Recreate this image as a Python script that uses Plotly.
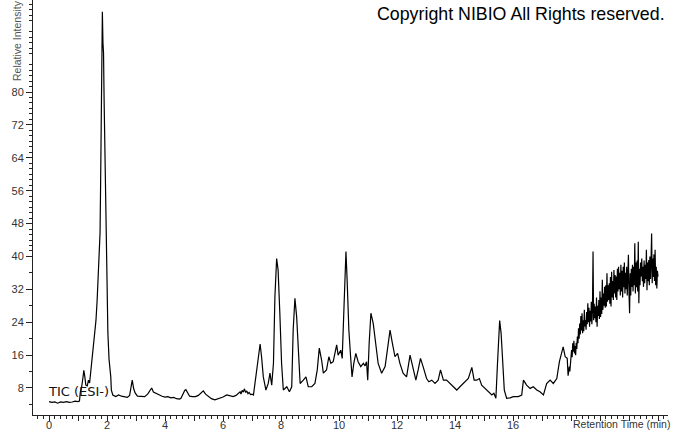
import plotly.graph_objects as go

# ---- data (retention time in min, relative intensity) ----
time_main = [
    0.00, 0.10, 0.20, 0.30, 0.40, 0.50, 0.60, 0.70, 0.80, 0.90, 1.00, 1.05,
    1.08, 1.12, 1.17, 1.20, 1.23, 1.27, 1.32, 1.36, 1.40, 1.44, 1.48, 1.52, 1.57, 1.62, 1.66,
    1.70, 1.73, 1.76, 1.78, 1.80, 1.82, 1.84, 1.86, 1.88, 1.90, 1.93, 1.97, 2.00, 2.03, 2.07,
    2.10, 2.13, 2.15, 2.20, 2.30, 2.40, 2.50, 2.60, 2.70, 2.78, 2.83, 2.87, 2.92, 2.97, 3.05,
    3.20, 3.30, 3.40, 3.50, 3.54, 3.60, 3.70, 3.80, 3.90, 4.00, 4.10, 4.20, 4.30, 4.40, 4.50,
    4.55, 4.62, 4.68, 4.72, 4.78, 4.85, 4.95, 5.05, 5.15, 5.25, 5.32, 5.40, 5.50, 5.60, 5.72,
    5.85, 6.00, 6.13, 6.25, 6.35, 6.45, 6.55, 6.59, 6.62, 6.66, 6.70, 6.74, 6.78, 6.82, 6.86,
    6.90, 6.95, 7.00, 7.05, 7.10, 7.15, 7.20, 7.28, 7.33, 7.39, 7.48, 7.56, 7.62, 7.68, 7.74,
    7.79, 7.85, 7.90, 7.96, 8.02, 8.08, 8.20, 8.29, 8.37, 8.42, 8.48, 8.54, 8.60, 8.66, 8.77,
    8.86, 8.94, 9.06, 9.17, 9.25, 9.32, 9.40, 9.46, 9.57, 9.65, 9.72, 9.80, 9.86, 9.92, 9.97,
    10.06, 10.11, 10.17, 10.24, 10.28, 10.34, 10.40, 10.45, 10.51, 10.58, 10.66, 10.75, 10.84,
    10.90, 10.95, 10.99, 11.04, 11.10, 11.18, 11.26, 11.35, 11.47, 11.59, 11.70, 11.76, 11.84,
    11.93, 12.02, 12.10, 12.21, 12.33, 12.45, 12.54, 12.65, 12.73, 12.81, 12.90, 13.02, 13.10,
    13.20, 13.31, 13.42, 13.50, 13.60, 13.71, 13.83, 13.94, 14.06, 14.17, 14.34, 14.46, 14.58,
    14.66, 14.75, 14.84, 14.92, 15.03, 15.15, 15.27, 15.34, 15.41, 15.46, 15.51, 15.54, 15.59,
    15.64, 15.70, 15.78, 15.90, 16.01, 16.18, 16.30, 16.36, 16.47, 16.59, 16.70, 16.82, 16.93,
    17.05, 17.16, 17.28, 17.39, 17.51, 17.60, 17.68, 17.73, 17.80, 17.87,
]
intensity_main = [
    4.7, 4.5, 4.6, 4.3, 4.6, 4.5, 4.7, 4.5, 4.6, 4.8, 4.7, 4.8,
    7.0, 8.0, 10.5, 12.3, 11.0, 8.7, 8.5, 9.9, 9.2, 12.0, 14.5, 17.2, 21.0, 24.5, 29.4,
    37.0, 43.3, 45.7, 58.0, 70.0, 88.6, 99.5, 92.0, 89.5, 78.0, 61.8, 45.7, 29.4, 21.4, 15.0,
    13.2, 10.7, 7.5, 6.3, 5.9, 6.3, 6.0, 5.9, 5.7, 6.2, 8.7, 9.9, 7.8, 6.8, 6.0,
    5.9, 5.9, 6.5, 7.8, 8.0, 7.0, 6.6, 6.3, 6.0, 5.8, 5.9, 5.6, 5.7, 5.4, 5.3,
    5.5, 6.6, 7.4, 7.6, 7.0, 6.0, 5.9, 5.9, 6.2, 7.0, 7.3, 6.5, 5.9, 5.4, 5.1,
    5.4, 5.8, 6.3, 6.0, 5.9, 6.2, 6.8, 7.1, 6.5, 7.4, 7.0, 7.8, 6.9, 7.3, 6.6,
    6.9, 6.4, 6.5, 6.3, 9.0, 12.4, 15.6, 18.7, 15.6, 10.7, 7.5, 9.1, 11.6, 8.7, 14.0,
    30.2, 39.5, 36.7, 26.2, 14.0, 7.5, 8.3, 7.1, 8.3, 22.1, 29.8, 25.3, 15.6, 9.1, 9.9,
    10.7, 8.3, 8.3, 9.1, 12.4, 17.7, 14.8, 11.6, 12.4, 15.6, 14.0, 14.4, 16.5, 18.5, 16.0,
    17.2, 15.2, 26.2, 41.2, 34.3, 22.1, 15.6, 10.7, 14.0, 16.4, 14.4, 13.2, 14.0,
    13.4, 14.4, 9.9, 18.9, 26.2, 23.7, 18.9, 14.0, 11.6, 13.2, 18.9, 22.1, 18.9,
    15.6, 16.4, 14.0, 11.6, 10.7, 16.0, 13.2, 9.9, 12.4, 15.2, 13.2, 10.3, 9.5,
    9.9, 9.1, 9.9, 12.4, 9.9, 9.9, 9.1, 8.3, 7.5, 8.3, 9.5, 10.3, 13.0,
    9.9, 9.9, 10.3, 8.7, 7.9, 7.1, 6.3, 6.7, 5.5, 13.2, 20.5, 24.4, 21.3,
    14.0, 7.5, 5.5, 5.6, 5.9, 5.9, 6.3, 9.9, 8.7, 7.9, 8.3, 7.5, 7.1,
    6.3, 9.1, 9.9, 9.1, 10.3, 14.4, 16.8, 18.0, 15.6, 15.2,
]

# noisy rising tail at the end of the run
time_tail = [
    17.90, 17.92, 17.94, 17.96, 17.98, 18.00, 18.02, 18.04, 18.06, 18.08,
    18.10, 18.12, 18.14, 18.16, 18.18, 18.20, 18.22, 18.24, 18.26, 18.28,
    18.30, 18.32, 18.34, 18.36, 18.38, 18.40, 18.42, 18.44, 18.46, 18.48,
    18.50, 18.52, 18.54, 18.56, 18.58, 18.60, 18.62, 18.64, 18.66, 18.68,
    18.70, 18.72, 18.74, 18.76, 18.78, 18.80, 18.82, 18.84, 18.86, 18.88,
    18.90, 18.92, 18.94, 18.96, 18.98, 19.00, 19.02, 19.04, 19.06, 19.08,
    19.10, 19.12, 19.14, 19.16, 19.18, 19.20, 19.22, 19.24, 19.26, 19.28,
    19.30, 19.32, 19.34, 19.36, 19.38, 19.40, 19.42, 19.44, 19.46, 19.48,
    19.50, 19.52, 19.54, 19.56, 19.58, 19.60, 19.62, 19.64, 19.66, 19.68,
    19.70, 19.72, 19.74, 19.76, 19.78, 19.80, 19.82, 19.84, 19.86, 19.88,
    19.90, 19.92, 19.94, 19.96, 19.98, 20.00, 20.02, 20.04, 20.06, 20.08,
    20.10, 20.12, 20.14, 20.16, 20.18, 20.20, 20.22, 20.24, 20.26, 20.28,
    20.30, 20.32, 20.34, 20.36, 20.38, 20.40, 20.42, 20.44, 20.46, 20.48,
    20.50, 20.52, 20.54, 20.56, 20.58, 20.60, 20.62, 20.64, 20.66, 20.68,
    20.70, 20.72, 20.74, 20.76, 20.78, 20.80, 20.82, 20.84, 20.86, 20.88,
    20.90, 20.92, 20.94, 20.96, 20.98, 21.00,
]
intensity_tail = [
    11.0, 12.5, 13.2, 12.0, 15.0, 14.2, 17.2, 15.5, 18.9, 16.8,
    19.5, 16.4, 18.2, 16.0, 19.0, 17.5, 20.5, 18.9, 22.5, 20.0,
    23.7, 21.0, 25.5, 22.0, 26.2, 21.3, 24.5, 21.8, 27.0, 23.0,
    24.5, 22.2, 26.5, 23.5, 28.6, 24.0, 27.5, 22.9, 26.8, 24.2,
    29.0, 23.5, 27.2, 41.2, 24.5, 28.5, 25.0, 27.8, 24.0, 30.0,
    22.9, 28.0, 25.5, 29.4, 24.8, 31.5, 25.3, 30.0, 26.0, 34.3,
    27.0, 31.0, 28.0, 32.6, 27.5, 33.0, 27.8, 35.9, 29.0, 33.0,
    29.4, 33.5, 28.5, 35.0, 27.8, 36.3, 30.0, 34.0, 29.4, 36.7,
    31.0, 35.5, 30.0, 35.1, 29.4, 37.0, 31.5, 37.5, 32.0, 36.0,
    30.5, 38.0, 31.5, 36.5, 30.0, 37.5, 32.5, 38.5, 31.0, 36.0,
    32.0, 37.5, 30.5, 38.5, 40.4, 31.0, 26.2, 35.9, 30.5, 37.0,
    32.6, 38.0, 31.5, 37.5, 33.0, 43.2, 31.0, 38.5, 32.5, 39.0,
    31.5, 43.6, 28.6, 37.0, 33.0, 38.5, 35.1, 39.5, 34.0, 37.5,
    32.6, 39.0, 33.5, 38.0, 34.5, 41.6, 31.8, 38.5, 34.0, 39.1,
    33.0, 40.0, 34.5, 39.0, 45.6, 33.5, 39.5, 35.0, 40.5, 34.0,
    41.6, 33.0, 37.5, 32.2, 36.5, 35.1,
]

x_tick_values = list(range(0, 22))
x_tick_labels = [str(v) if (v % 2 == 0 and v <= 16) else "" for v in x_tick_values]
y_tick_values = [8, 16, 24, 32, 40, 48, 56, 64, 72, 80]
y_tick_labels = [str(v) for v in y_tick_values]

# ---- figure ----
W, H = 673, 433
ML, MR, MT, MB = 33, 5, 0, 18
PW, PH = W - ML - MR, H - MT - MB

def px(x):
    return (x - ML) / PW

def py(y):
    return (H - MB - y) / PH

y_minor = [v for v in range(4, 40, 8)]
k = 40.0
while k < 102:
    if abs(k / 8 - round(k / 8)) > 1e-6:
        y_minor.append(round(k, 3))
    k += 8 / 6

fig = go.Figure()
fig.add_trace(go.Scatter(
    x=time_main + time_tail, y=intensity_main + intensity_tail,
    mode="lines", line=dict(color="black", width=1.2), hoverinfo="skip",
    showlegend=False,
))

tick_font = dict(family="Liberation Sans, Arial, sans-serif", size=11, color="#333333")

fig.update_layout(
    width=W, height=H,
    margin=dict(l=ML, r=MR, t=MT, b=MB),
    paper_bgcolor="white", plot_bgcolor="white",
    showlegend=False,
    xaxis=dict(
        range=[-0.552, 21.345], showgrid=False, zeroline=False,
        showline=True, linecolor="#222222", linewidth=1,
        ticks="outside", ticklen=5, tickcolor="#222222", tickwidth=1,
        tickmode="array", tickvals=x_tick_values, ticktext=x_tick_labels,
        tickfont=tick_font, automargin=False, ticklabelstandoff=-5,
        minor=dict(tickmode="linear", tick0=0, dtick=0.2, ticks="outside",
                   ticklen=3, tickcolor="#222222", tickwidth=1),
    ),
    yaxis=dict(
        range=[1.43, 102.38], showgrid=False, zeroline=False,
        showline=True, linecolor="#222222", linewidth=1,
        ticks="outside", ticklen=6, tickcolor="#222222", tickwidth=1,
        tickmode="array", tickvals=y_tick_values, ticktext=y_tick_labels,
        tickfont=tick_font, automargin=False,
        minor=dict(tickmode="array", tickvals=y_minor, ticks="outside",
                   ticklen=3, tickcolor="#222222", tickwidth=1),
    ),
    annotations=[
        dict(text="Relative Intensity", xref="paper", yref="paper",
             x=px(17), y=py(41), textangle=-90, showarrow=False,
             xanchor="center", yanchor="middle",
             font=dict(family="Liberation Sans, Arial, sans-serif", size=10.5, color="#555555")),
        dict(text="TIC (ESI-)", xref="paper", yref="paper",
             x=px(46), y=py(391), showarrow=False, xanchor="left", yanchor="middle",
             font=dict(family="DejaVu Sans, sans-serif", size=13, color="#111111")),
        dict(text="Copyright NIBIO All Rights reserved.", xref="paper", yref="paper",
             x=px(667), y=py(14), showarrow=False, xanchor="right", yanchor="middle",
             font=dict(family="Liberation Sans, Arial, sans-serif", size=17.8, color="black")),
        dict(text="Retention Time (min)", xref="paper", yref="paper",
             x=px(672), y=py(424), showarrow=False, xanchor="right", yanchor="middle",
             font=dict(family="Liberation Sans, Arial, sans-serif", size=10.5, color="#333333")),
    ],
)

fig.write_html(
    "out.html",
    config={"displayModeBar": False},
    post_script="document.body.style.margin='0';document.body.style.overflow='hidden';",
)
